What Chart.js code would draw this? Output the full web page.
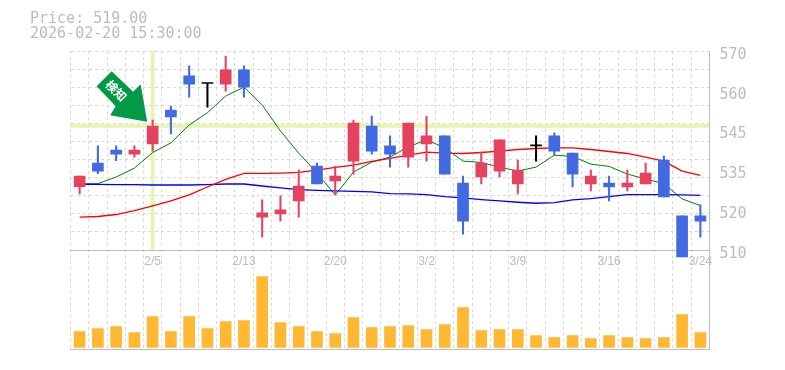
<!DOCTYPE html>
<html>
<head>
<meta charset="utf-8">
<style>
    html, body { margin: 0; padding: 0; background: #fff; }
    canvas { display: block; }
</style>
<script src="https://cdn.jsdelivr.net/npm/chart.js@4/dist/chart.umd.min.js"></script>
</head>
<body>
<canvas id="chart" width="785" height="370"></canvas>
<script>
const dates = ["1/30", "2/2", "2/3", "2/4", "2/5", "2/6", "2/9", "2/10", "2/12", "2/13", "2/16", "2/17", "2/18", "2/19", "2/20", "2/24", "2/25", "2/26", "2/27", "3/2", "3/3", "3/4", "3/5", "3/6", "3/9", "3/10", "3/11", "3/12", "3/13", "3/16", "3/17", "3/18", "3/19", "3/23", "3/24"];
const shownDates = ["2/5", "2/13", "2/20", "3/2", "3/9", "3/16", "3/24"];

const opens  = [529.1, 536.2, 540.1, 538.9, 542.0, 552.2, 562.5, 560.2, 560.0, 564.3, 519.9, 520.9, 524.8, 535.3, 530.8, 536.8, 547.4, 541.4, 538.0, 542.0, 544.4, 530.2, 532.0, 533.8, 529.9, 541.4, 544.4, 539.2, 529.9, 530.2, 529.0, 529.9, 537.1, 520.3, 520.3];
const closes = [532.3, 533.8, 538.9, 540.1, 547.4, 550.1, 560.0, 560.2, 564.3, 559.1, 521.2, 522.1, 529.3, 529.9, 532.3, 548.3, 539.8, 538.9, 548.3, 544.4, 532.9, 518.7, 536.2, 543.2, 534.1, 541.4, 539.8, 532.9, 532.3, 529.0, 530.2, 533.2, 526.0, 507.9, 518.7];
const highs  = [532.3, 541.4, 541.4, 541.4, 549.2, 553.4, 565.5, 560.2, 568.5, 565.5, 525.1, 526.3, 534.1, 536.2, 535.3, 549.2, 550.4, 544.4, 548.3, 550.4, 544.4, 532.3, 539.5, 543.2, 537.1, 544.4, 545.3, 539.2, 534.1, 532.3, 534.1, 536.2, 538.3, 520.3, 523.6];
const lows   = [526.9, 533.0, 536.9, 538.0, 539.8, 545.0, 556.1, 553.1, 557.9, 556.1, 513.9, 518.7, 519.9, 529.9, 526.6, 532.9, 538.9, 535.0, 535.0, 536.8, 532.9, 514.8, 529.9, 532.0, 526.9, 536.8, 538.6, 529.0, 527.8, 524.8, 527.8, 529.9, 526.0, 507.9, 513.9];

const maShort = [530.0, 530.0, 532.0, 534.7, 539.4, 542.3, 547.7, 551.4, 556.4, 559.1, 553.7, 545.9, 539.2, 533.2, 526.6, 533.5, 536.5, 538.0, 541.1, 543.2, 540.8, 536.8, 536.4, 535.0, 533.8, 535.0, 538.6, 538.2, 535.9, 535.2, 532.9, 531.4, 530.0, 525.4, 523.4];
const maMid   = [529.8, 529.8, 529.7, 529.7, 529.6, 529.6, 529.6, 529.7, 529.9, 529.9, 529.3, 528.7, 528.2, 528.0, 527.8, 527.7, 527.5, 527.0, 526.9, 526.7, 526.1, 525.7, 525.2, 524.8, 524.4, 524.1, 524.3, 525.1, 525.5, 526.1, 526.7, 526.7, 526.7, 526.6, 526.5];
const maLong  = [519.9, 520.1, 520.7, 521.9, 523.3, 524.8, 526.6, 529.0, 531.3, 533.1, 533.1, 533.2, 533.4, 534.1, 534.9, 535.6, 536.7, 537.6, 538.6, 539.5, 539.2, 539.1, 539.4, 539.8, 540.3, 540.6, 540.8, 540.8, 540.3, 539.7, 539.1, 538.0, 536.8, 533.8, 532.5];

const volumes = [1600, 1900, 2100, 1500, 3100, 1600, 3100, 1900, 2600, 2700, 7100, 2500, 2100, 1600, 1400, 3000, 2000, 2100, 2200, 1800, 2300, 4000, 1700, 1800, 1800, 1200, 1000, 1200, 900, 1200, 1000, 900, 1000, 3300, 1500];

const priceTickValues = [510, 522, 534, 546, 558, 570];
const priceTickLabels = ["510", "520", "535", "545", "560", "570"];
const priceGridValues = [510, 515.45, 520.91, 526.36, 531.82, 537.27, 542.73, 548.18, 553.64, 559.09, 564.55, 570];

const headerLines = ["Price: 519.00", "2026-02-20 15:30:00"];
const markerPrice = 547.4;
const markerDate = "2/5";
const arrowText = "検知";

const GRID = "#d8d8d8";
const AXIS = "#bdbdbd";
const TEXT = "#bcbcbc";
const CROSS = "#e6f5a9";
const UP = "#e4425f";
const DOWN = "#4169e1";
const FLAT = "#000000";

function CandleColor(i)
{
    if (closes[i] > opens[i]) return UP;
    if (closes[i] < opens[i]) return DOWN;
    return FLAT;
}

const candleColors = dates.map((d, i) => CandleColor(i));

// Green arrow pointing down at the marked candle, placed from the scales
const arrowPlugin = {
    id: "arrow",
    afterDatasetsDraw(chart) {
        const ctx = chart.ctx;
        const tipX = chart.scales.x.getPixelForValue(dates.indexOf(markerDate)) - 5.5;
        const tipY = chart.scales.y.getPixelForValue(548.7);

        ctx.save();
        ctx.translate(tipX, tipY);
        ctx.fillStyle = "#009944";
        ctx.beginPath();
        ctx.moveTo(0, 0);
        ctx.lineTo(-37, -6.5);
        ctx.lineTo(-31.5, -15.5);
        ctx.lineTo(-50.5, -35.5);
        ctx.lineTo(-35.5, -50.5);
        ctx.lineTo(-14, -30);
        ctx.lineTo(-6.5, -37.5);
        ctx.closePath();
        ctx.fill();

        ctx.translate(-31, -31);
        ctx.rotate(Math.PI / 4);
        ctx.fillStyle = "#ffffff";
        ctx.font = "bold 12px 'Noto Sans CJK JP'";
        ctx.textAlign = "center";
        ctx.textBaseline = "middle";
        ctx.fillText(arrowText, 0, 0);
        ctx.restore();
    }
};

new Chart(document.getElementById("chart").getContext("2d"), {
    type: "bar",
    plugins: [arrowPlugin],
    data: {
        labels: dates,
        datasets: [
            {
                type: "line", xAxisID: "xLine", yAxisID: "y", order: 10,
                data: [{ x: dates.indexOf(markerDate) + 0.5, y: 510 }, { x: dates.indexOf(markerDate) + 0.5, y: 570 }],
                borderColor: CROSS, borderWidth: 3.5, pointRadius: 0
            },
            {
                type: "line", xAxisID: "xLine", yAxisID: "y", order: 10,
                data: [{ x: 0, y: markerPrice }, { x: dates.length, y: markerPrice }],
                borderColor: CROSS, borderWidth: 3.5, pointRadius: 0
            },
            { type: "line", yAxisID: "y", order: 5, data: maLong, borderColor: "#ff0000", borderWidth: 1.3, pointRadius: 0, tension: 0 },
            { type: "line", yAxisID: "y", order: 5, data: maMid, borderColor: "#0000ff", borderWidth: 1.3, pointRadius: 0, tension: 0 },
            { type: "line", yAxisID: "y", order: 5, data: maShort, borderColor: "#008000", borderWidth: 1, pointRadius: 0, tension: 0 },
            {
                yAxisID: "yVolume", order: 4, grouped: false, barThickness: 11,
                data: volumes, backgroundColor: "#ffb833"
            },
            {
                yAxisID: "y", order: 3, grouped: false, barThickness: 1.4,
                data: dates.map((d, i) => [lows[i], highs[i]]), backgroundColor: candleColors
            },
            {
                yAxisID: "y", order: 2, grouped: false, barThickness: 11, minBarLength: 1,
                data: dates.map((d, i) => [Math.min(opens[i], closes[i]), Math.max(opens[i], closes[i])]),
                backgroundColor: candleColors
            }
        ]
    },
    options: {
        responsive: false,
        animation: false,
        layout: { padding: { left: 30, right: 0, top: 0, bottom: 20.5 } },
        plugins: {
            legend: { display: false },
            tooltip: { enabled: false },
            title: {
                display: true,
                text: headerLines,
                align: "start",
                color: TEXT,
                font: { family: "'DejaVu Sans Mono'", size: 15, weight: "normal", lineHeight: 1 },
                padding: { top: 12, bottom: 9 }
            }
        },
        scales: {
            x: {
                position: { y: 510 },
                offset: true,
                grid: { color: GRID, offset: true, drawTicks: false },
                border: { color: AXIS, dash: [3, 3] },
                ticks: {
                    autoSkip: false,
                    maxRotation: 0,
                    padding: 4,
                    color: TEXT,
                    font: { family: "'Liberation Sans'", size: 12 },
                    callback(value) {
                        const label = this.getLabelForValue(value);
                        return shownDates.includes(label) ? label : "";
                    }
                }
            },
            xLine: {
                type: "linear",
                position: "bottom",
                offset: false,
                min: 0,
                max: dates.length,
                grid: { display: false, offset: false },
                border: { color: AXIS },
                ticks: { display: false },
                afterFit(scale) { scale.height = 0; }
            },
            y: {
                position: "left",
                min: 480,
                max: 570,
                grid: { color: GRID, drawTicks: false },
                border: { display: false, dash: [3, 3] },
                ticks: { display: false, autoSkip: false },
                afterBuildTicks(scale) { scale.ticks = priceGridValues.map(v => ({ value: v })); },
                afterFit(scale) { scale.width = 40.5; }
            },
            yLabels: {
                position: "right",
                min: 480,
                max: 570,
                grid: { display: false, drawTicks: false },
                border: { color: AXIS },
                ticks: {
                    autoSkip: false,
                    padding: 10,
                    labelOffset: 4,
                    color: TEXT,
                    font: { family: "'DejaVu Sans Mono'", size: 15 },
                    callback(value, index) { return priceTickLabels[index]; }
                },
                afterBuildTicks(scale) { scale.ticks = priceTickValues.map(v => ({ value: v })); },
                afterFit(scale) { scale.width = 75.5; }
            },
            yVolume: {
                display: false,
                min: -200,
                max: 29650
            }
        }
    }
});
</script>
</body>
</html>
